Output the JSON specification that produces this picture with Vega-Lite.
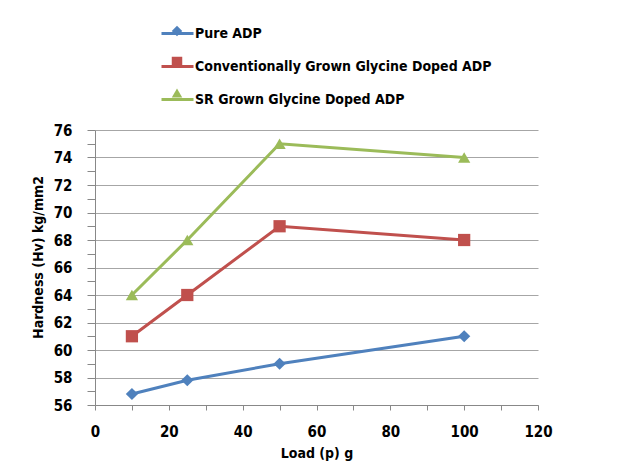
{
  "$schema": "https://vega.github.io/schema/vega-lite/v6.json",
  "autosize": "none",
  "width": 443,
  "height": 275,
  "padding": {"left": 95, "top": 130, "right": 81, "bottom": 59},
  "background": "white",
  "config": {
    "view": {"stroke": null},
    "font": "DejaVu Sans Condensed, Liberation Sans, sans-serif",
    "axis": {"labelFont": "DejaVu Sans Condensed, Liberation Sans, sans-serif", "titleFont": "DejaVu Sans Condensed, Liberation Sans, sans-serif", "labelFontWeight": "bold", "titleFontWeight": "bold", "labelColor": "#000", "titleColor": "#000", "labelFontSize": 15, "titleFontSize": 14, "domainColor": "#888", "tickColor": "#888", "gridColor": "#a6a6a6"},
    "legend": {"labelFont": "DejaVu Sans Condensed, Liberation Sans, sans-serif", "labelFontWeight": "bold", "labelFontSize": 14, "labelColor": "#000", "labelLimit": 400}
  },
  "data": {"values": [
    {"series": "Pure ADP", "load": 10, "hardness": 56.8},
    {"series": "Pure ADP", "load": 25, "hardness": 57.8},
    {"series": "Pure ADP", "load": 50, "hardness": 59},
    {"series": "Pure ADP", "load": 100, "hardness": 61},
    {"series": "Conventionally Grown Glycine Doped ADP", "load": 10, "hardness": 61},
    {"series": "Conventionally Grown Glycine Doped ADP", "load": 25, "hardness": 64},
    {"series": "Conventionally Grown Glycine Doped ADP", "load": 50, "hardness": 69},
    {"series": "Conventionally Grown Glycine Doped ADP", "load": 100, "hardness": 68},
    {"series": "SR Grown Glycine Doped ADP", "load": 10, "hardness": 64},
    {"series": "SR Grown Glycine Doped ADP", "load": 25, "hardness": 68},
    {"series": "SR Grown Glycine Doped ADP", "load": 50, "hardness": 75},
    {"series": "SR Grown Glycine Doped ADP", "load": 100, "hardness": 74}
  ]},
  "encoding": {
    "x": {"field": "load", "type": "quantitative", "scale": {"domain": [0, 120], "nice": false},
      "axis": {"title": "Load  (p) g", "values": [0,10,20,30,40,50,60,70,80,90,100,110,120], "labelExpr": "datum.value % 20 === 0 ? datum.label : ''", "grid": false, "tickSize": 5, "labelPadding": 14, "titlePadding": 7, "labelFlush": false}},
    "y": {"field": "hardness", "type": "quantitative", "scale": {"domain": [56, 76], "nice": false, "zero": false},
      "axis": {"title": "Hardness (Hv) kg/mm2", "values": [56,57,58,59,60,61,62,63,64,65,66,67,68,69,70,71,72,73,74,75,76], "labelExpr": "datum.value % 2 === 0 ? datum.label : ''", "gridOpacity": {"condition": {"test": "datum.value % 2 === 0", "value": 1}, "value": 0}, "tickSize": 8, "labelPadding": 15, "titlePadding": 8, "titleY": 127}}
  },
  "resolve": {"legend": {"color": "independent", "shape": "independent"}},
  "layer": [
    {
      "mark": {"type": "line", "strokeWidth": 3},
      "encoding": {
        "color": {"field": "series", "type": "nominal",
          "scale": {"domain": ["Pure ADP", "Conventionally Grown Glycine Doped ADP", "SR Grown Glycine Doped ADP"], "range": ["#4F81BD", "#C0504D", "#9BBB59"]},
          "legend": {"title": null, "orient": "none", "legendX": 65, "legendY": -114, "symbolType": "stroke", "symbolSize": 1024, "symbolStrokeWidth": 3, "rowPadding": 8, "labelOffset": 0}}
      }
    },
    {
      "mark": {"type": "point", "filled": true, "opacity": 1, "size": 150},
      "encoding": {
        "color": {"field": "series", "type": "nominal",
          "legend": {"title": null, "orient": "none", "legendX": 75, "legendY": -106, "symbolSize": 110, "rowPadding": 17, "labelExpr": "''", "labelOffset": 0}},
        "shape": {"field": "series", "type": "nominal",
          "scale": {"domain": ["Pure ADP", "Conventionally Grown Glycine Doped ADP", "SR Grown Glycine Doped ADP"], "range": ["diamond", "square", "triangle-up"]},
          "legend": {"title": null, "orient": "none", "legendX": 75, "legendY": -106, "symbolSize": 110, "rowPadding": 17, "labelExpr": "''", "labelOffset": 0}}
      }
    }
  ]
}
